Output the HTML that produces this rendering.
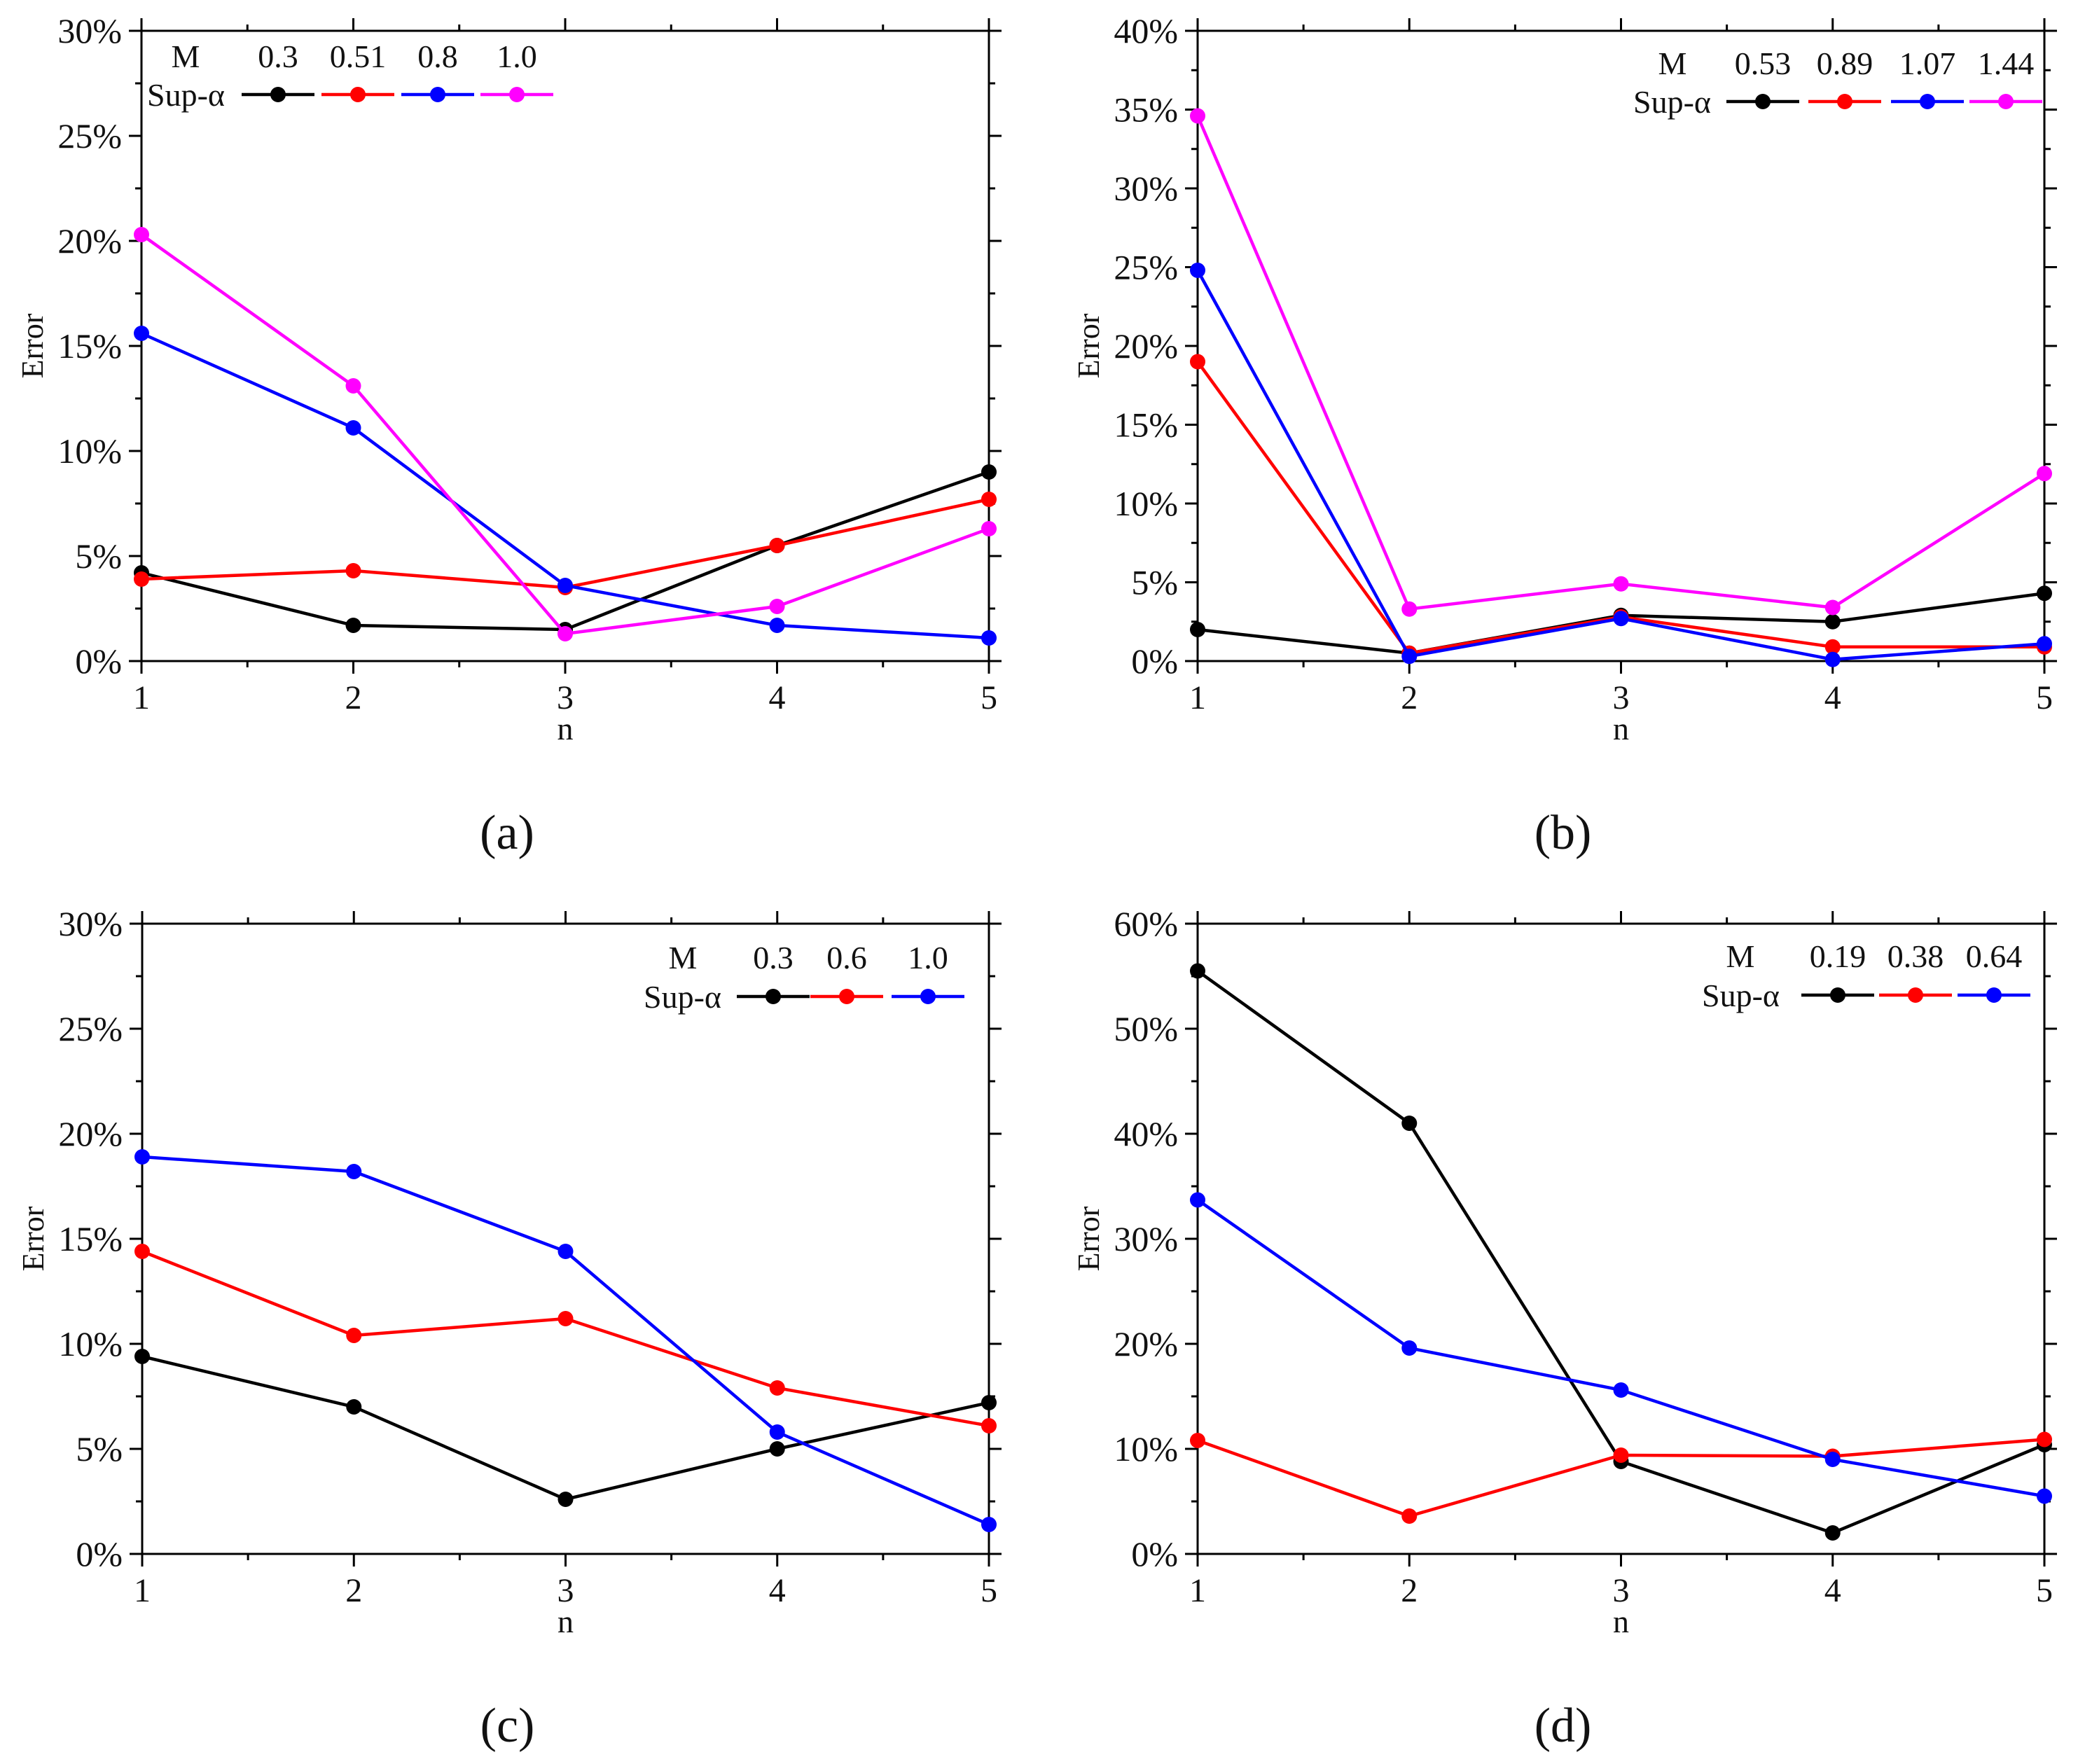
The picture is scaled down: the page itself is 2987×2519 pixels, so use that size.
<!DOCTYPE html>
<html><head><meta charset="utf-8">
<style>
html,body{margin:0;padding:0;background:#fff;}
svg{display:block;}
text{font-family:"Liberation Serif",serif;fill:#111;}
</style></head>
<body>
<svg id="fig" width="2987" height="2519" viewBox="0 0 2987 2519" xmlns="http://www.w3.org/2000/svg"></svg>
<script>
const xCategories = [1, 2, 3, 4, 5];

const aLabels = ["0.3", "0.51", "0.8", "1.0"];
const aBlack = [4.2, 1.7, 1.5, 5.5, 9.0];
const aRed = [3.9, 4.3, 3.5, 5.5, 7.7];
const aBlue = [15.6, 11.1, 3.6, 1.7, 1.1];
const aMagenta = [20.3, 13.1, 1.3, 2.6, 6.3];
const aTicks = [0, 5, 10, 15, 20, 25, 30];

const bLabels = ["0.53", "0.89", "1.07", "1.44"];
const bBlack = [2.0, 0.5, 2.9, 2.5, 4.3];
const bRed = [19.0, 0.5, 2.8, 0.9, 0.9];
const bBlue = [24.8, 0.3, 2.7, 0.1, 1.1];
const bMagenta = [34.6, 3.3, 4.9, 3.4, 11.9];
const bTicks = [0, 5, 10, 15, 20, 25, 30, 35, 40];

const cLabels = ["0.3", "0.6", "1.0"];
const cBlack = [9.4, 7.0, 2.6, 5.0, 7.2];
const cRed = [14.4, 10.4, 11.2, 7.9, 6.1];
const cBlue = [18.9, 18.2, 14.4, 5.8, 1.4];
const cTicks = [0, 5, 10, 15, 20, 25, 30];

const dLabels = ["0.19", "0.38", "0.64"];
const dBlack = [55.5, 41.0, 8.8, 2.0, 10.4];
const dRed = [10.8, 3.6, 9.4, 9.3, 10.9];
const dBlue = [33.7, 19.6, 15.6, 9.0, 5.5];
const dTicks = [0, 10, 20, 30, 40, 50, 60];

const NS = "http://www.w3.org/2000/svg";
const svg = document.getElementById("fig");
function mk(tag, attrs, parent, txt) {
  const e = document.createElementNS(NS, tag);
  for (const k in attrs) e.setAttribute(k, attrs[k]);
  if (txt !== undefined) e.textContent = txt;
  (parent || svg).appendChild(e);
  return e;
}

const COLORS = ["#000000", "#ff0000", "#0000ff", "#ff00ff"];

function panel(id, box, ticks, series, labels, legend, letter) {
  const g = mk("g", {});
  
  
  const L = box.l, R = box.r, T = box.t, B = box.b;
  const yMax = ticks[ticks.length - 1];
  const xs = v => L + (v - 1) / 4 * (R - L);
  const ys = v => B - v / yMax * (B - T);
  const step = ticks[1] - ticks[0];
  const frame = mk("rect", {x: L, y: T, width: R - L, height: B - T, fill: "none", stroke: "#000", "stroke-width": 3}, g);
  
  
  for (let i = 0; i < ticks.length; i++) {
    const y = ys(ticks[i]);
    mk("line", {x1: L - 18, x2: L, y1: y, y2: y, stroke: "#000", "stroke-width": 3}, g);
    mk("line", {x1: R, x2: R + 18, y1: y, y2: y, stroke: "#000", "stroke-width": 3}, g);
    const t = mk("text", {x: L - 28, y: y + 17, "text-anchor": "end", "font-size": 50}, g, ticks[i] + "%");
    
    
    if (i < ticks.length - 1) {
      const ym = ys(ticks[i] + step / 2);
      mk("line", {x1: L - 9, x2: L, y1: ym, y2: ym, stroke: "#000", "stroke-width": 3}, g);
      mk("line", {x1: R, x2: R + 9, y1: ym, y2: ym, stroke: "#000", "stroke-width": 3}, g);
    }
  }
  for (let i = 0; i < xCategories.length; i++) {
    const x = xs(xCategories[i]);
    mk("line", {x1: x, x2: x, y1: B, y2: B + 18, stroke: "#000", "stroke-width": 3}, g);
    mk("line", {x1: x, x2: x, y1: T - 18, y2: T, stroke: "#000", "stroke-width": 3}, g);
    const t = mk("text", {x: x, y: B + 68, "text-anchor": "middle", "font-size": 48}, g, String(xCategories[i]));
    
    
    if (i < xCategories.length - 1) {
      const xm = xs(xCategories[i] + 0.5);
      mk("line", {x1: xm, x2: xm, y1: B, y2: B + 9, stroke: "#000", "stroke-width": 3}, g);
      mk("line", {x1: xm, x2: xm, y1: T - 9, y2: T, stroke: "#000", "stroke-width": 3}, g);
    }
  }
  const xt = mk("text", {x: (L + R) / 2, y: B + 112, "text-anchor": "middle", "font-size": 46}, g, "n");
  
  
  const cy = (T + B) / 2;
  const yt = mk("text", {x: 0, y: 0, "text-anchor": "middle", "font-size": 44, transform: "translate(" + (L - 141) + "," + cy + ") rotate(-90)"}, g, "Error");
  
  
  series.forEach((vals, si) => {
    const sg = mk("g", {}, g);
    
    
    const pts = vals.map((v, i) => xs(xCategories[i]) + "," + ys(v)).join(" ");
    mk("polyline", {points: pts, fill: "none", stroke: COLORS[si], "stroke-width": 4.5}, sg);
    vals.forEach((v, i) => {
      const c = mk("circle", {cx: xs(xCategories[i]), cy: ys(v), r: 11, fill: COLORS[si]}, sg);
      
      
    });
  });
  const lg = mk("g", {}, g);
  
  
  mk("text", {x: legend.mX, y: legend.y1 + 16, "text-anchor": "middle", "font-size": 46}, lg, "M");
  mk("text", {x: legend.supX, y: legend.y2 + 16, "text-anchor": "start", "font-size": 46}, lg, "Sup-\u03B1");
  labels.forEach((lab, i) => {
    const x = legend.xs[i];
    const t = mk("text", {x: x, y: legend.y1 + 16, "text-anchor": "middle", "font-size": 46}, lg, lab);
    
    
    mk("line", {x1: x - 52, x2: x + 52, y1: legend.y2, y2: legend.y2, stroke: COLORS[i], "stroke-width": 4.5}, lg);
    mk("circle", {cx: x, cy: legend.y2, r: 11, fill: COLORS[i]}, lg);
  });
  const pl = mk("text", {x: (L + R) / 2 - 83, y: B + 268, "text-anchor": "middle", "font-size": 70}, g, "(" + letter + ")");
  
  
}

panel("a", {l: 202, r: 1412, t: 44, b: 944}, aTicks, [aBlack, aRed, aBlue, aMagenta], aLabels,
  {mX: 265, supX: 210, y1: 80, y2: 135, xs: [397, 511, 625, 738]}, "a");
panel("b", {l: 1710, r: 2919, t: 44, b: 944}, bTicks, [bBlack, bRed, bBlue, bMagenta], bLabels,
  {mX: 2388, supX: 2332, y1: 90, y2: 145, xs: [2517, 2634, 2752, 2864]}, "b");
panel("c", {l: 203, r: 1412, t: 1319, b: 2219}, cTicks, [cBlack, cRed, cBlue], cLabels,
  {mX: 975, supX: 919, y1: 1367, y2: 1423, xs: [1104, 1209, 1325]}, "c");
panel("d", {l: 1710, r: 2919, t: 1319, b: 2219}, dTicks, [dBlack, dRed, dBlue], dLabels,
  {mX: 2485, supX: 2430, y1: 1365, y2: 1421, xs: [2624, 2735, 2847]}, "d");
</script>
</body></html>
